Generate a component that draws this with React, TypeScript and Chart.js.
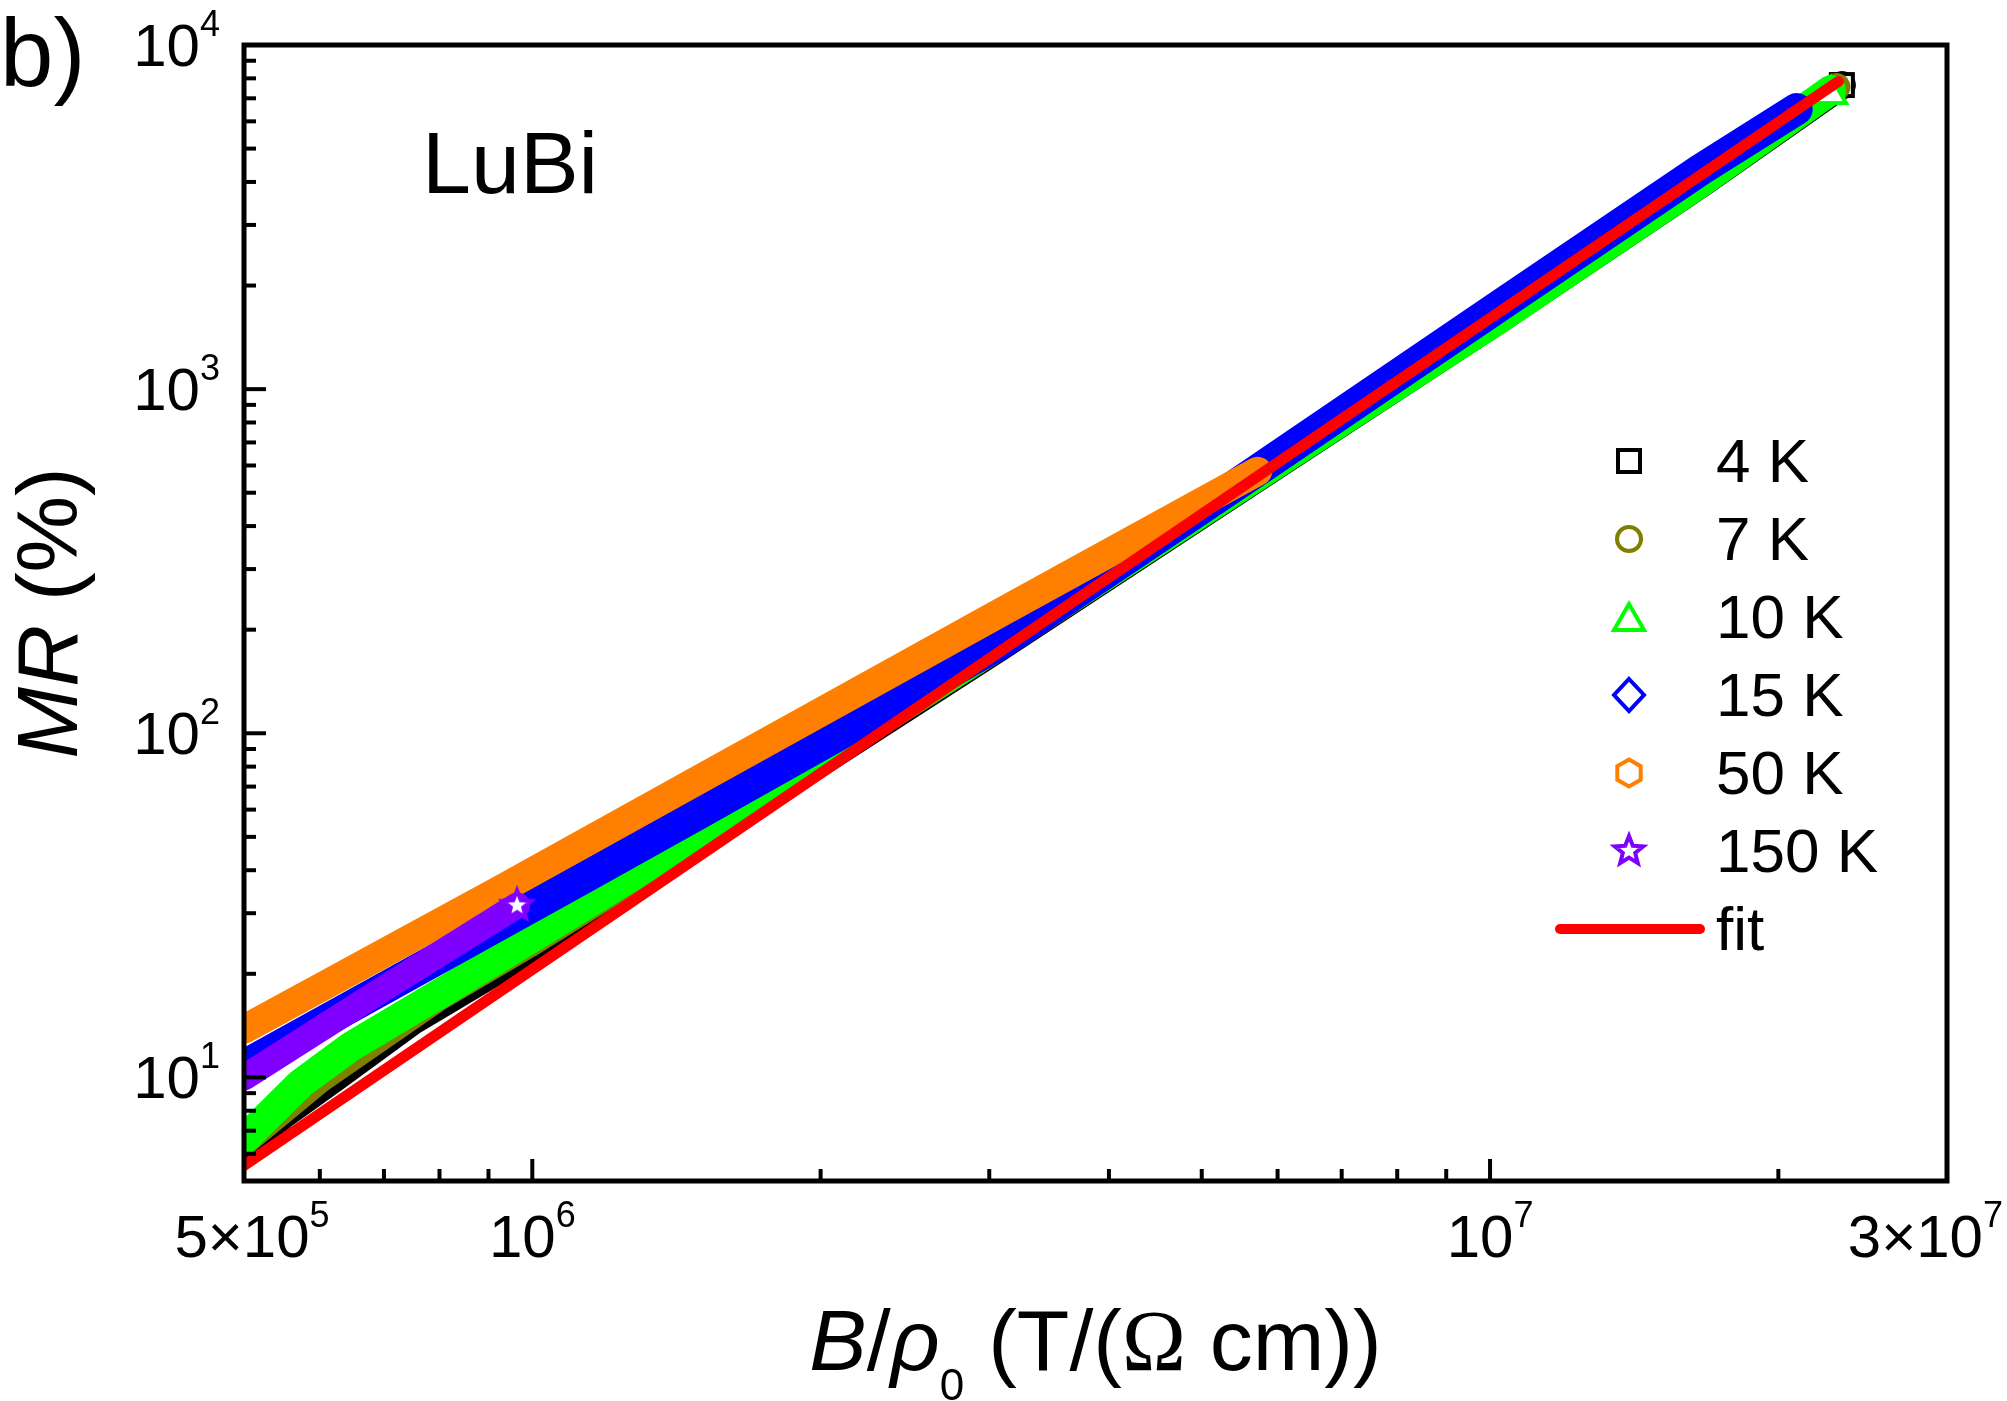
import React, { useEffect, useRef } from "react";
import { Chart, registerables } from "chart.js";

Chart.register(...registerables);

// ---------------- data ----------------
const X_4K = [5.0e5, 5.5e5, 6.2e5, 7.5e5, 1.0e6, 1.5e6, 3.08e6, 6.34e6, 1.025e7, 1.66e7, 2.33e7];
const MR_4K = [6.1, 7.8, 9.9, 14.6, 23.5, 49.0, 178, 668, 1600, 3950, 7650];

const X_7K = [5.0e5, 6.0e5, 8.0e5, 1.0e6, 1.5e6, 3.08e6, 6.34e6, 1.025e7, 1.66e7, 2.3e7];
const MR_7K = [6.5, 9.9, 17.2, 24.8, 50.0, 180, 673, 1605, 3970, 7550];

const X_10K = [5.0e5, 5.73e5, 6.47e5, 8.22e5, 1.0e6, 1.5e6, 3.08e6, 6.34e6, 1.025e7, 1.66e7, 2.27e7];
const MR_10K = [6.6, 9.6, 12.3, 18.3, 25.5, 51.0, 182, 676, 1610, 3990, 7400];

const X_15K = [5.0e5, 1.14e6, 1.5e6, 3.08e6, 5.53e6, 1.025e7, 1.66e7, 2.09e7];
const MR_15K = [10.8, 38.5, 58.9, 182, 545, 1752, 4349, 6510];

const X_50K = [5.0e5, 9.28e5, 1.69e6, 3.08e6, 5.72e6];
const MR_50K = [13.8, 35.2, 88.8, 224, 577];

const X_150K = [5.0e5, 6.95e5, 9.64e5];
const MR_150K = [10.0, 17.9, 31.6];

const X_FIT = [5.0e5, 2.31e7];
const MR_FIT = [5.55, 7830];

const SERIES_LABELS = ["4 K", "7 K", "10 K", "15 K", "50 K", "150 K"];
const SERIES_COLORS = ["#000000", "#808000", "#00FF00", "#0000FF", "#FF8000", "#8000FF"];
const SERIES_MARKERS = ["square", "circle", "triangle", "diamond", "hexagon", "star"];
const FIT_LABEL = "fit";
const FIT_COLOR = "#FF0000";

const X_MIN = 5e5;
const X_MAX = 3e7;
const Y_MIN = 5;
const Y_MAX = 1e4;

const Y_TICK_VALUES = [10, 100, 1000, 10000];
const Y_TICK_BASES = ["10", "10", "10", "10"];
const Y_TICK_EXPS = ["1", "2", "3", "4"];
const X_TICK_VALUES = [5e5, 1e6, 1e7, 3e7];
const X_TICK_BASES = ["5\u00D710", "10", "10", "3\u00D710"];
const X_TICK_EXPS = ["5", "6", "7", "7"];

const SAMPLE_LABEL = "LuBi";
const PANEL_LABEL = "b)";

// ---------------- drawing helpers ----------------
const SANS = '"Liberation Sans", Arial, Helvetica, sans-serif';
const SERIF = '"Liberation Serif", "Times New Roman", serif';

type Run = { t: string; font: string; dy?: number };

function runsWidth(ctx: CanvasRenderingContext2D, runs: Run[]) {
  let w = 0;
  for (const r of runs) {
    ctx.font = r.font;
    w += ctx.measureText(r.t).width;
  }
  return w;
}

function drawRuns(ctx: CanvasRenderingContext2D, runs: Run[], x: number, y: number) {
  let cx = x;
  for (const r of runs) {
    ctx.font = r.font;
    ctx.fillText(r.t, cx, y + (r.dy || 0));
    cx += ctx.measureText(r.t).width;
  }
}

function pathMarker(ctx: CanvasRenderingContext2D, style: string, cx: number, cy: number) {
  ctx.beginPath();
  switch (style) {
    case "square":
      ctx.rect(cx - 11, cy - 11, 22, 22);
      break;
    case "circle":
      ctx.arc(cx, cy, 12, 0, Math.PI * 2);
      break;
    case "triangle":
      ctx.moveTo(cx, cy - 13);
      ctx.lineTo(cx + 15, cy + 13);
      ctx.lineTo(cx - 15, cy + 13);
      ctx.closePath();
      break;
    case "diamond":
      ctx.moveTo(cx, cy - 16);
      ctx.lineTo(cx + 15, cy);
      ctx.lineTo(cx, cy + 16);
      ctx.lineTo(cx - 15, cy);
      ctx.closePath();
      break;
    case "hexagon":
      for (let k = 0; k < 6; k++) {
        const a = -Math.PI / 2 + (k * Math.PI) / 3;
        const px = cx + 13.5 * Math.cos(a);
        const py = cy + 13.5 * Math.sin(a);
        if (k === 0) ctx.moveTo(px, py);
        else ctx.lineTo(px, py);
      }
      ctx.closePath();
      break;
    case "star":
      for (let k = 0; k < 10; k++) {
        const a = -Math.PI / 2 + (k * Math.PI) / 5;
        const r = k % 2 === 0 ? 15 : 6.5;
        const px = cx + r * Math.cos(a);
        const py = cy + r * Math.sin(a);
        if (k === 0) ctx.moveTo(px, py);
        else ctx.lineTo(px, py);
      }
      ctx.closePath();
      break;
  }
}

function drawMarker(
  ctx: CanvasRenderingContext2D,
  style: string,
  color: string,
  cx: number,
  cy: number,
  fill: string | null
) {
  ctx.save();
  pathMarker(ctx, style, cx, cy);
  if (fill) {
    ctx.fillStyle = fill;
    ctx.fill();
  }
  ctx.strokeStyle = color;
  ctx.lineWidth = 4;
  ctx.lineJoin = "miter";
  ctx.stroke();
  ctx.restore();
}

function markerCanvas(style: string, color: string) {
  const c = document.createElement("canvas");
  c.width = 40;
  c.height = 40;
  const cctx = c.getContext("2d")!;
  drawMarker(cctx, style, color, 20, 20, "#FFFFFF");
  return c;
}

const decorPlugin = {
  id: "decor",
  beforeDraw(chart: any) {
    const ctx: CanvasRenderingContext2D = chart.ctx;
    ctx.save();
    ctx.fillStyle = "#FFFFFF";
    ctx.fillRect(0, 0, chart.width, chart.height);
    ctx.restore();
  },
  afterDraw(chart: any) {
    const ctx: CanvasRenderingContext2D = chart.ctx;
    const { left, right, top, bottom } = chart.chartArea;
    const xs = chart.scales.x;
    const ys = chart.scales.y;
    ctx.save();
    ctx.fillStyle = "#000";
    ctx.strokeStyle = "#000";
    ctx.textAlign = "left";
    ctx.textBaseline = "alphabetic";

    // ticks (inward)
    ctx.lineWidth = 4;
    ctx.lineCap = "butt";
    for (let e = 0; e <= 4; e++) {
      for (let m = 1; m <= 9; m++) {
        const v = m * Math.pow(10, e);
        if (v <= Y_MIN * 1.001 || v >= Y_MAX * 0.999) continue;
        const py = ys.getPixelForValue(v);
        const len = m === 1 ? 22 : 12;
        ctx.beginPath();
        ctx.moveTo(left, py);
        ctx.lineTo(left + len, py);
        ctx.stroke();
      }
    }
    for (let e = 5; e <= 7; e++) {
      for (let m = 1; m <= 9; m++) {
        const v = m * Math.pow(10, e);
        if (v <= X_MIN * 1.001 || v >= X_MAX * 0.999) continue;
        const px = xs.getPixelForValue(v);
        const len = m === 1 ? 22 : 12;
        ctx.beginPath();
        ctx.moveTo(px, bottom);
        ctx.lineTo(px, bottom - len);
        ctx.stroke();
      }
    }

    // frame
    ctx.lineWidth = 5;
    ctx.lineJoin = "miter";
    ctx.strokeRect(left, top, right - left, bottom - top);

    const baseFont = `60px ${SANS}`;
    const supFont = `36px ${SANS}`;

    // y tick labels
    Y_TICK_VALUES.forEach((v, i) => {
      const py = ys.getPixelForValue(v);
      const runs: Run[] = [
        { t: Y_TICK_BASES[i], font: baseFont },
        { t: Y_TICK_EXPS[i], font: supFont, dy: -30 },
      ];
      const w = runsWidth(ctx, runs);
      drawRuns(ctx, runs, left - 24 - w, py + 21);
    });

    // x tick labels
    X_TICK_VALUES.forEach((v, i) => {
      const px = xs.getPixelForValue(v);
      const runs: Run[] = [
        { t: X_TICK_BASES[i], font: baseFont },
        { t: X_TICK_EXPS[i], font: supFont, dy: -30 },
      ];
      const w = runsWidth(ctx, runs);
      let x0 = px - w / 2;
      if (i === 0) x0 += 8;
      if (x0 + w > chart.width - 4) x0 = chart.width - 4 - w;
      drawRuns(ctx, runs, x0, bottom + 76);
    });

    // x axis title
    const tf = 86;
    const xTitle: Run[] = [
      { t: "B", font: `italic ${tf}px ${SANS}` },
      { t: "/", font: `${tf}px ${SANS}` },
      { t: "\u03C1", font: `italic ${tf}px ${SANS}` },
      { t: "0", font: `44px ${SANS}`, dy: 30 },
      { t: " (T/(", font: `${tf}px ${SANS}` },
      { t: "\u03A9", font: `${tf}px ${SERIF}` },
      { t: " cm))", font: `${tf}px ${SANS}` },
    ];
    const xw = runsWidth(ctx, xTitle);
    drawRuns(ctx, xTitle, (left + right) / 2 - xw / 2, 1370);

    // y axis title
    const yTitle: Run[] = [
      { t: "MR", font: `italic ${tf}px ${SANS}` },
      { t: " (%)", font: `${tf}px ${SANS}` },
    ];
    const yw = runsWidth(ctx, yTitle);
    ctx.save();
    ctx.translate(77, (top + bottom) / 2);
    ctx.rotate(-Math.PI / 2);
    drawRuns(ctx, yTitle, -yw / 2, 0);
    ctx.restore();

    // annotations
    ctx.font = `88px ${SANS}`;
    ctx.fillText(SAMPLE_LABEL, 422, 193);
    ctx.font = `96px ${SANS}`;
    ctx.fillText(PANEL_LABEL, 0, 86);

    // legend
    const legX = 1629;
    const legY0 = 461;
    const legDy = 78;
    SERIES_LABELS.forEach((lab, i) => {
      const cy = legY0 + legDy * i;
      drawMarker(ctx, SERIES_MARKERS[i], SERIES_COLORS[i], legX, cy, null);
      ctx.fillStyle = "#000";
      ctx.font = `62px ${SANS}`;
      ctx.fillText(lab, 1716, cy + 21);
    });
    const fy = legY0 + legDy * SERIES_LABELS.length;
    ctx.strokeStyle = FIT_COLOR;
    ctx.lineWidth = 10;
    ctx.lineCap = "round";
    ctx.beginPath();
    ctx.moveTo(1560, fy);
    ctx.lineTo(1700, fy);
    ctx.stroke();
    ctx.fillStyle = "#000";
    ctx.font = `62px ${SANS}`;
    ctx.fillText(FIT_LABEL, 1716, fy + 21);

    ctx.restore();
  },
};

function pts(xs: number[], ys: number[]) {
  return xs.map((x, i) => ({ x, y: ys[i] }));
}

export default function App() {
  const ref = useRef<HTMLCanvasElement | null>(null);

  useEffect(() => {
    const canvas = ref.current;
    if (!canvas) return;

    const endRadius = (c: any) => (c.dataIndex === c.dataset.data.length - 1 ? 15 : 0);

    const band = (
      label: string,
      xs: number[],
      ys: number[],
      color: string,
      width: number,
      order: number,
      endMarker: string | null
    ) => ({
      label,
      data: pts(xs, ys),
      showLine: true,
      borderColor: color,
      backgroundColor: color,
      borderWidth: width,
      borderCapStyle: "round",
      borderJoinStyle: "round",
      tension: 0,
      fill: false,
      clip: 0,
      order,
      pointStyle: endMarker ? markerCanvas(endMarker, color) : "circle",
      pointRadius: endMarker ? endRadius : 0,
      pointHoverRadius: 0,
    });

    const chart = new Chart(canvas, {
      type: "scatter",
      data: {
        datasets: [
          band(FIT_LABEL, X_FIT, MR_FIT, FIT_COLOR, 11, 0, null),
          band(SERIES_LABELS[5], X_150K, MR_150K, SERIES_COLORS[5], 26, 1, "star"),
          band(SERIES_LABELS[4], X_50K, MR_50K, SERIES_COLORS[4], 29, 2, null),
          band(SERIES_LABELS[3], X_15K, MR_15K, SERIES_COLORS[3], 32, 3, null),
          band(SERIES_LABELS[2], X_10K, MR_10K, SERIES_COLORS[2], 30, 4, "triangle"),
          band(SERIES_LABELS[1], X_7K, MR_7K, SERIES_COLORS[1], 28, 5, null),
          band(SERIES_LABELS[0], X_4K, MR_4K, SERIES_COLORS[0], 28, 6, "square"),
        ] as any,
      },
      options: {
        animation: false,
        responsive: false,
        devicePixelRatio: 1,
        events: [],
        layout: { padding: { left: 244, right: 60, top: 35, bottom: 220 } },
        scales: {
          x: { type: "logarithmic", min: X_MIN, max: X_MAX, display: false },
          y: { type: "logarithmic", min: Y_MIN, max: Y_MAX, display: false },
        },
        plugins: {
          legend: { display: false },
          tooltip: { enabled: false },
          title: { display: false },
        },
      } as any,
      plugins: [decorPlugin as any],
    });

    return () => chart.destroy();
  }, []);

  return (
    <div style={{ position: "absolute", left: 0, top: 0, width: 2007, height: 1401, background: "#fff" }}>
      <canvas ref={ref} width={2007} height={1401} style={{ display: "block" }} />
    </div>
  );
}
